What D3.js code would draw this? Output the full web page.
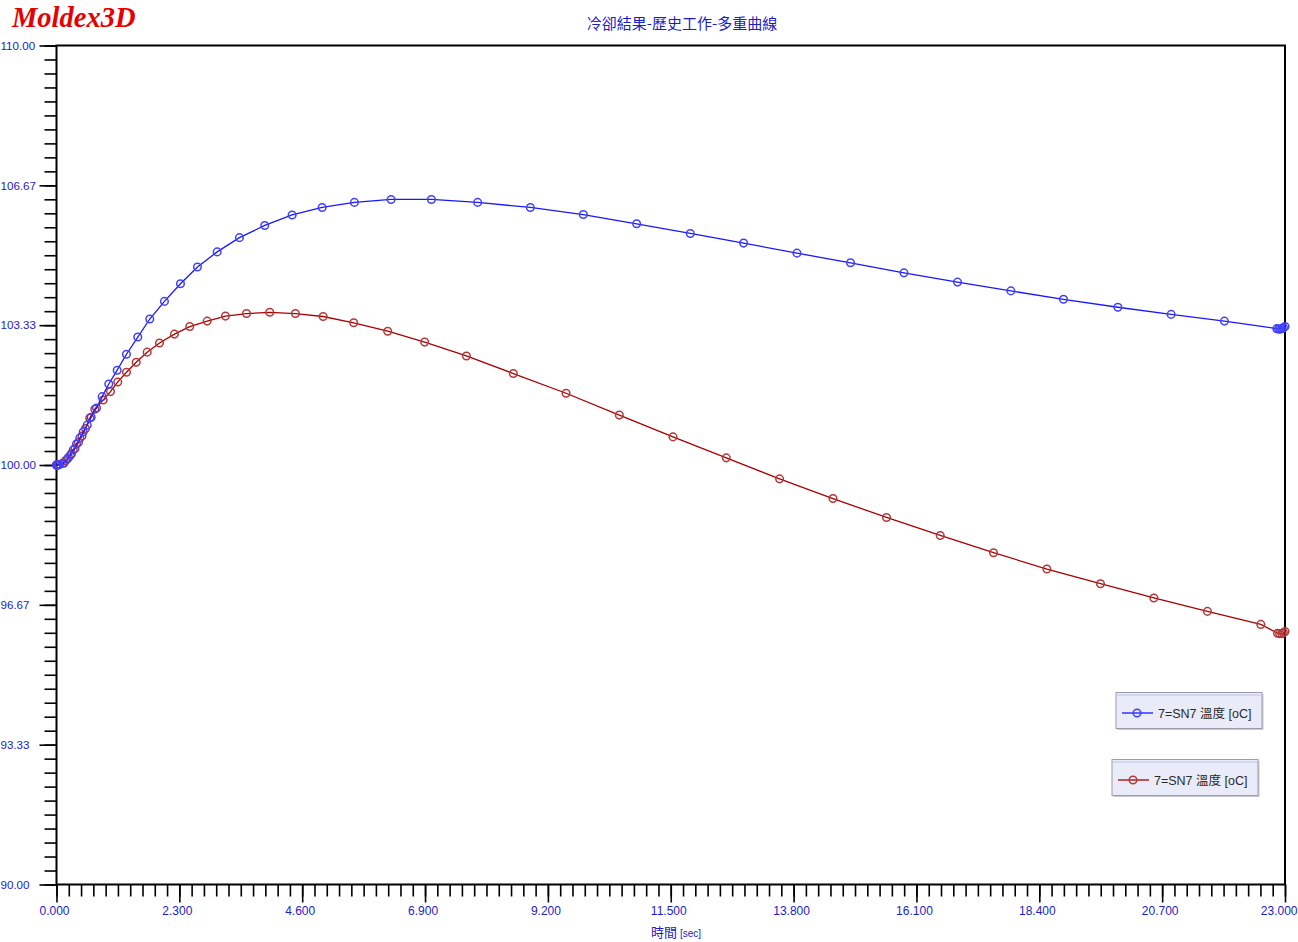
<!DOCTYPE html>
<html>
<head>
<meta charset="utf-8">
<script src="https://cdn.jsdelivr.net/npm/d3@7"></script>
<style>
  html, body { margin: 0; padding: 0; background: #fff; }
  svg { display: block; }
</style>
</head>
<body>
<svg id="chart" width="1298" height="942"></svg>
<script>
// ---- data ----
const chartTitle = "冷卻結果-歷史工作-多重曲線";
const xAxisTitle = "時間";
const xAxisUnit = "[sec]";
const seriesNames = ["7=SN7 溫度 [oC]", "7=SN7 溫度 [oC]"];

const xTickValues = [0, 2.3, 4.6, 6.9, 9.2, 11.5, 13.8, 16.1, 18.4, 20.7, 23.0];
const xTickLabels = ["0.000", "2.300", "4.600", "6.900", "9.200", "11.500", "13.800", "16.100", "18.400", "20.700", "23.000"];
const yTickValues = [90, 93.3333, 96.6667, 100, 103.3333, 106.6667, 110];
const yTickLabels = ["90.00", "93.33", "96.67", "100.00", "103.33", "106.67", "110.00"];

const blueTime = [0, 0.006, 0.012, 0.019, 0.043, 0.137, 0.200, 0.262, 0.313, 0.374, 0.436, 0.500, 0.575, 0.649,
  0.749, 0.855, 0.979, 1.136, 1.310, 1.522, 1.746, 2.021, 2.321, 2.639, 3.008, 3.425, 3.899, 4.411, 4.973,
  5.577, 6.264, 7.019, 7.885, 8.871, 9.863, 10.861, 11.866, 12.864, 13.863, 14.866, 15.866, 16.869,
  17.868, 18.853, 19.871, 20.868, 21.866, 22.847, 22.88, 22.91, 22.94, 22.97, 23.0];
const blueTemp = [100.00, 100.00, 100.00, 100.00, 100.01, 100.04, 100.14, 100.24, 100.36, 100.50, 100.64, 100.79, 100.95, 101.14,
  101.36, 101.63, 101.93, 102.26, 102.64, 103.05, 103.48, 103.90, 104.32, 104.72, 105.08, 105.42, 105.71, 105.96, 106.14,
  106.26, 106.33, 106.33, 106.26, 106.14, 105.97, 105.75, 105.52, 105.29, 105.05, 104.82, 104.58, 104.36,
  104.15, 103.95, 103.76, 103.59, 103.43, 103.25, 103.24, 103.24, 103.25, 103.27, 103.30];

const redTime = [0, 0.006, 0.012, 0.019, 0.056, 0.112, 0.168, 0.225, 0.281, 0.346, 0.412, 0.477, 0.543, 0.623, 0.717,
  0.874, 1.011, 1.147, 1.310, 1.492, 1.698, 1.928, 2.208, 2.495, 2.821, 3.163, 3.557, 3.992, 4.473, 4.992,
  5.564, 6.201, 6.893, 7.674, 8.553, 9.540, 10.537, 11.542, 12.540, 13.537, 14.537, 15.540, 16.545, 17.543,
  18.542, 19.545, 20.545, 21.548, 22.547, 22.86, 22.90, 22.94, 22.97, 23.0];
const redTemp = [100.00, 100.00, 100.00, 100.00, 100.01, 100.04, 100.10, 100.18, 100.27, 100.39, 100.54, 100.69, 100.87, 101.12, 101.33,
  101.55, 101.75, 101.98, 102.21, 102.45, 102.69, 102.91, 103.12, 103.30, 103.43, 103.55, 103.61, 103.64, 103.61, 103.54,
  103.39, 103.19, 102.93, 102.60, 102.18, 101.71, 101.19, 100.67, 100.17, 99.67, 99.20, 98.75, 98.32, 97.91,
  97.52, 97.17, 96.83, 96.51, 96.20, 95.99, 95.98, 95.98, 96.00, 96.03];

// ---- layout ----
const svg = d3.select("#chart");
const plotLeft = 56.5, plotRight = 1285, plotTop = 45.5, plotBottom = 884.5;
const x = d3.scaleLinear().domain([0, 23]).range([plotLeft, plotRight]);
const y = d3.scaleLinear().domain([90, 110]).range([plotBottom, plotTop]);
const textBlue = "#1c1cc8";

// logo
svg.append("text").attr("x", 12).attr("y", 27)
  .attr("font-family", "'Liberation Serif', 'DejaVu Serif', serif")
  .attr("font-weight", "bold").attr("font-style", "italic")
  .attr("font-size", 28.5).attr("fill", "#e80000").text("Moldex3D");

// title
svg.append("text").attr("x", 682).attr("y", 29).attr("text-anchor", "middle")
  .attr("font-family", "'Noto Sans CJK TC', sans-serif").attr("font-size", 15)
  .attr("fill", textBlue).text(chartTitle);

// minor ticks
const xMinor = d3.range(0, 101).map(i => i * 0.23);
const yMinor = d3.range(0, 61).map(i => 90 + i / 3);

const gx = svg.append("g").attr("transform", `translate(0,${plotBottom})`);
gx.call(d3.axisBottom(x).tickValues(xMinor).tickSize(12).tickFormat(""));
gx.select(".domain").remove();
const gxMaj = svg.append("g").attr("transform", `translate(0,${plotBottom})`);
gxMaj.call(d3.axisBottom(x).tickValues(xTickValues).tickSize(18).tickPadding(6)
  .tickFormat((d, i) => xTickLabels[i]));
gxMaj.select(".domain").remove();

const gy = svg.append("g").attr("transform", `translate(${plotLeft},0)`);
gy.call(d3.axisLeft(y).tickValues(yMinor).tickSize(12).tickFormat(""));
gy.select(".domain").remove();
const gyMaj = svg.append("g").attr("transform", `translate(${plotLeft},0)`);
gyMaj.call(d3.axisLeft(y).tickValues(yTickValues).tickSize(17).tickFormat((d, i) => yTickLabels[i]));
gyMaj.select(".domain").remove();

svg.selectAll(".tick line").attr("stroke", "#000").attr("stroke-width", 1.6);
gxMaj.selectAll(".tick text").attr("fill", textBlue).attr("font-size", 12)
  .attr("font-family", "'Liberation Sans', Arial, sans-serif").attr("dx", -2.5).attr("dy", "0.5em");
// last label sits at the window edge: keep it inside
gxMaj.selectAll(".tick text").filter((d, i) => i === xTickValues.length - 1)
  .attr("text-anchor", "end").attr("dx", 1297 - x(23));
gyMaj.selectAll(".tick text").attr("fill", textBlue).attr("font-size", 11.6)
  .attr("font-family", "'Liberation Sans', Arial, sans-serif")
  .attr("text-anchor", "start").attr("x", 0.5 - plotLeft);

// frame
svg.append("rect").attr("x", plotLeft).attr("y", plotTop).attr("width", plotRight - plotLeft).attr("height", plotBottom - plotTop)
  .attr("fill", "none").attr("stroke", "#000").attr("stroke-width", 2);

// x axis title
const xt = svg.append("text").attr("x", 676).attr("y", 937).attr("text-anchor", "middle")
  .attr("fill", textBlue).attr("font-family", "'Noto Sans CJK TC', sans-serif");
xt.append("tspan").attr("font-size", 13).text(xAxisTitle + " ");
xt.append("tspan").attr("font-size", 10).attr("font-family", "'Liberation Sans', Arial, sans-serif").text(xAxisUnit);

// series
const series = [
  {t: blueTime, v: blueTemp, line: "#1818ff", mark: "#4040ff"},
  {t: redTime, v: redTemp, line: "#a80000", mark: "#b43838"}
];
const lineGen = d3.line().x(d => x(d[0])).y(d => y(d[1]));
[series[1], series[0]].forEach(s => {
  const pts = s.t.map((t, i) => [t, s.v[i]]);
  svg.append("path").datum(pts).attr("d", lineGen)
    .attr("fill", "none").attr("stroke", s.line).attr("stroke-width", 1.3);
  svg.append("g").selectAll("circle").data(pts).join("circle")
    .attr("cx", d => x(d[0])).attr("cy", d => y(d[1])).attr("r", 3.8)
    .attr("fill", "none").attr("stroke", s.mark).attr("stroke-width", 1.5);
});

// legends
const legends = [
  {lx: 1116, ly: 692.5, w: 146, h: 36, s: series[0], name: seriesNames[0]},
  {lx: 1112, ly: 759.5, w: 146, h: 36, s: series[1], name: seriesNames[1]}
];
legends.forEach(L => {
  const g = svg.append("g").attr("transform", `translate(${L.lx},${L.ly})`);
  g.append("rect").attr("x", 1.5).attr("y", 1.5).attr("width", L.w).attr("height", L.h).attr("fill", "#c8c8d4");
  g.append("rect").attr("width", L.w).attr("height", L.h).attr("fill", "#e9ebf8").attr("stroke", "#9c9cac").attr("stroke-width", 1);
  g.append("line").attr("x1", 1).attr("x2", L.w - 1).attr("y1", 2.5).attr("y2", 2.5).attr("stroke", "#d2d6ee").attr("stroke-width", 2);
  g.append("line").attr("x1", 6).attr("x2", 37).attr("y1", 20.5).attr("y2", 20.5).attr("stroke", L.s.line).attr("stroke-width", 1.3);
  g.append("circle").attr("cx", 21).attr("cy", 20.5).attr("r", 3.8).attr("fill", "none").attr("stroke", L.s.mark).attr("stroke-width", 1.5);
  g.append("text").attr("x", 42).attr("y", 25).attr("font-size", 12.5).attr("fill", "#2a2a2a")
    .attr("font-family", "'Liberation Sans', 'Noto Sans CJK TC', sans-serif").text(L.name);
});
</script>
</body>
</html>
